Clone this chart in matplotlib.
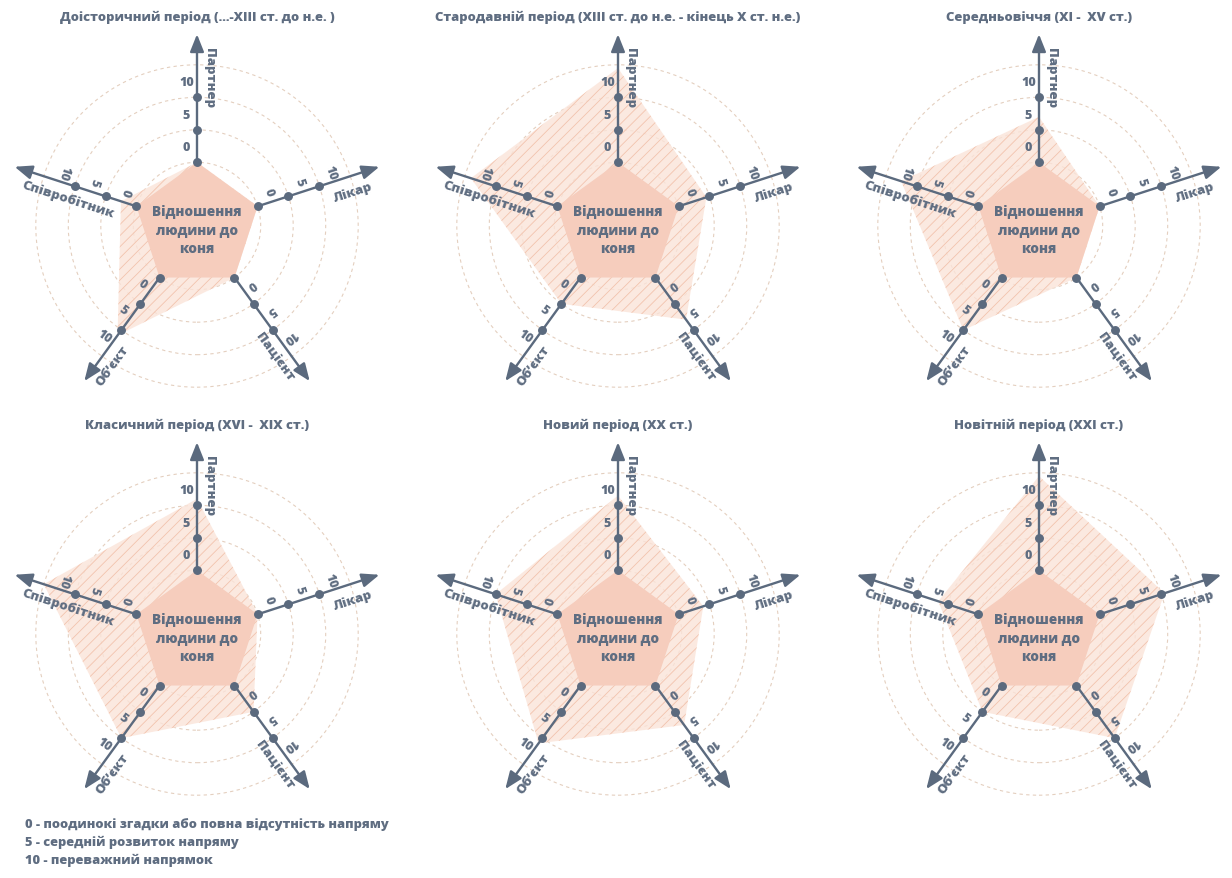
import numpy as np
import matplotlib.pyplot as plt
from matplotlib.patches import Polygon, Circle

plt.rcParams['font.family'] = ['Open Sans', 'DejaVu Sans']
plt.rcParams['hatch.linewidth'] = 0.6

# дані
categories = ['Партнер', 'Лікар', 'Пацієнт', 'Об’єкт', 'Співробітник']
tick_values = [0, 5, 10]
ring_values = [0, 5, 10, 15]

titles = ['Доісторичний період (...-XIII ст. до н.е. )',
          'Стародавній період (XIII ст. до н.е. - кінець X ст. н.е.)',
          'Середньовіччя (XI -  XV ст.)',
          'Класичний період (XVI -  XIX ст.)',
          'Новий період (XX ст.)',
          'Новітній період (XXI ст.)']

# Партнер, Лікар, Пацієнт, Об'єкт, Співробітник
prehistoric = [0, 0, 0, 11, 2.5]
ancient = [14.5, 4.5, 8, 5, 14]
medieval = [7, 0, 0, 10, 12.5]
classic = [11, 0, 5, 10, 15]
modern = [11.5, 4, 7.5, 11, 10]
newest = [14.5, 10.5, 10, 5, 6.5]
periods = [prehistoric, ancient, medieval, classic, modern, newest]

center_text = 'Відношення\nлюдини до\nконя'
legend_lines = ['0 - поодинокі згадки або повна відсутність напряму',
                '5 - середній розвиток напряму',
                '10 - переважний напрямок']

# стиль
AXIS = '#5b6a7e'
TEXT = '#5f6d81'
CORE = '#f6cdbd'
AREA = '#fbe4d9'
HATCH = '#f2c3ad'
RING = '#e4cfbf'
W8 = 800

W, H = 1232, 879
PX = 6.5      # пікселів на одиницю шкали
R0 = 9.8      # радіус п'ятикутника
TIP = 29.5    # кінець стрілки
angles = np.deg2rad([90, 18, -54, -126, 162])
centers = [(197, 227), (618, 227), (1039, 227), (197, 635), (618, 635), (1039, 635)]

title_r = [27.6, 27.6, 27.6, 28.6, 27.6]
title_off = [1.8, 2.4, 2.2, -2.1, -2.2]
title_rot = [-90, 18, -54, 54, -18]
title_ha = ['left', 'right', 'right', 'left', 'left']
tick_side = [-1.6, -1.6, -1.6, 1.6, 1.6]
tick_rot = [0, -72, -144, -36, -108]


def point(a, r, off=0.0):
    # r уздовж осі, off - перпендикулярно (за годинниковою)
    return (r * np.cos(a) + off * np.sin(a), r * np.sin(a) - off * np.cos(a))


def draw_radar(ax, title, vals):
    for v in ring_values:
        ax.add_patch(Circle((0, 0), R0 + v, fill=False, ec=RING, lw=0.8,
                            ls=(0, (3, 3)), zorder=1))

    pts = [point(a, R0 + v) for a, v in zip(angles, vals)]
    ax.add_patch(Polygon(pts, closed=True, fc=AREA, ec='none', alpha=0.8, zorder=2))
    ax.add_patch(Polygon(pts, closed=True, fc='none', ec=HATCH, lw=0, hatch='///', zorder=2))

    core = [point(a, R0) for a in angles]
    ax.add_patch(Polygon(core, closed=True, fc=CORE, ec='none', zorder=3))

    for i, a in enumerate(angles):
        ax.annotate('', xy=point(a, TIP), xytext=point(a, R0),
                    arrowprops=dict(arrowstyle='-|>,head_length=0.75,head_width=0.3',
                                    color=AXIS, lw=1.7, mutation_scale=14,
                                    shrinkA=0, shrinkB=0), zorder=4)
        xs = [point(a, R0 + t)[0] for t in tick_values]
        ys = [point(a, R0 + t)[1] for t in tick_values]
        ax.plot(xs, ys, 'o', ms=5.4, color=AXIS, zorder=5)
        for t in tick_values:
            x, y = point(a, R0 + t + 2.3, tick_side[i])
            ax.text(x, y, str(t), color=TEXT, fontsize=9, fontweight=W8,
                    rotation=tick_rot[i], rotation_mode='anchor',
                    ha='center', va='center', zorder=6)
        x, y = point(a, title_r[i], title_off[i])
        ax.text(x, y, categories[i], color=TEXT, fontsize=9.5, fontweight=W8,
                rotation=title_rot[i], rotation_mode='anchor',
                ha=title_ha[i], va='center', zorder=6)

    ax.text(0, -0.4, center_text, color=TEXT, fontsize=9.8, fontweight=W8,
            ha='center', va='center', linespacing=1.45, zorder=6)
    ax.text(0, 32.2, title, color=TEXT, fontsize=9.4, fontweight=W8,
            ha='center', va='center', zorder=6, clip_on=False)


fig = plt.figure(figsize=(W / 100, H / 100), dpi=100)
half = 200
for (cx, cy), title, vals in zip(centers, titles, periods):
    ax = fig.add_axes([(cx - half) / W, 1 - (cy + half) / H, 2 * half / W, 2 * half / H])
    ax.set_xlim(-half / PX, half / PX)
    ax.set_ylim(-half / PX, half / PX)
    ax.axis('off')
    draw_radar(ax, title, vals)

for k, line in enumerate(legend_lines):
    fig.text(25 / W, 1 - (825 + 17.5 * k) / H, line, color=TEXT, fontsize=9.3,
             fontweight=W8, ha='left', va='center')

fig.savefig('out.png', dpi=100, facecolor='white')
